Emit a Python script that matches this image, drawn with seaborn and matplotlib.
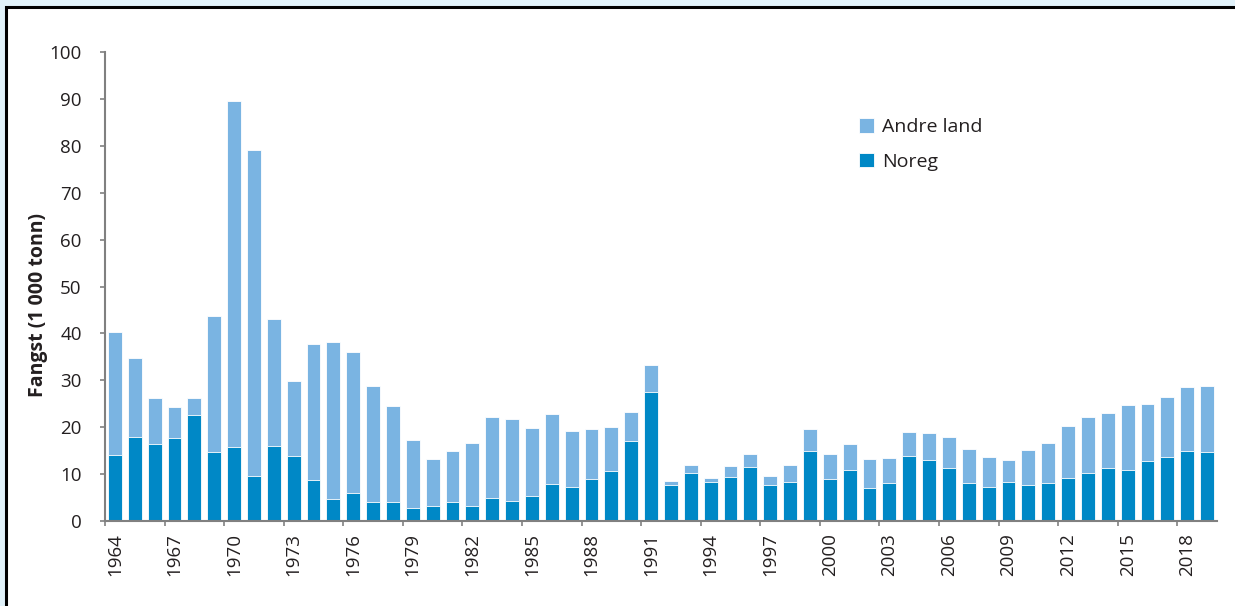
import pandas as pd
import seaborn as sns
from matplotlib import pyplot as plt
from matplotlib.patches import Rectangle

years = list(range(1964, 2020))
# total catch (Noreg + Andre land), 1 000 tonn
total = [40.4, 34.7, 26.3, 24.3, 26.2, 43.7, 89.5, 79.0, 43.1, 29.9,
         37.8, 38.2, 36.1, 28.8, 24.6, 17.3, 13.2, 15.0, 16.7, 22.1,
         21.8, 19.9, 22.8, 19.1, 19.6, 20.1, 23.2, 33.3, 8.5, 11.9,
         9.2, 11.7, 14.3, 9.5, 11.9, 19.6, 14.3, 16.4, 13.3, 13.4,
         19.0, 18.8, 17.9, 15.4, 13.7, 13.0, 15.2, 16.6, 20.3, 22.2,
         23.0, 24.8, 25.0, 26.4, 28.5, 28.8]
noreg = [14.1, 18.0, 16.4, 17.6, 22.5, 14.7, 15.8, 9.5, 15.9, 13.9,
         8.7, 4.7, 6.0, 4.1, 4.1, 2.8, 3.1, 4.1, 3.2, 4.8,
         4.3, 5.3, 7.9, 7.3, 9.0, 10.6, 17.1, 27.6, 7.7, 10.2,
         8.4, 9.4, 11.6, 7.6, 8.4, 15.0, 9.0, 10.9, 7.1, 8.2,
         13.9, 13.1, 11.2, 8.1, 7.3, 8.3, 7.7, 8.1, 9.2, 10.3,
         11.2, 10.9, 12.8, 13.7, 14.9, 14.8]
tick_years = years[::3]

light = '#7ab4e2'
dark = '#0088c6'
grey = '#808080'
txt = '#231f20'

sns.set_theme(style='white')
plt.rcParams['font.family'] = ['Open Sans', 'DejaVu Sans']

df = pd.DataFrame({'year': [str(y) for y in years], 'total': total, 'noreg': noreg})

fig = plt.figure(figsize=(12.35, 6.06), dpi=100, facecolor='#e1f2fa')
fig.patches.append(Rectangle((6 / 1235, -0.1), 1.2, 1.1 - 7 / 606,
                             transform=fig.transFigure, facecolor='white',
                             edgecolor='black', lw=2.2, zorder=-1))
ax = fig.add_axes([105 / 1235, 1 - 521 / 606, (1217 - 105) / 1235, (521 - 52) / 606])
ax.set_facecolor('none')

sns.barplot(data=df, x='year', y='total', color=light, saturation=1, width=0.7,
            edgecolor='white', linewidth=0.6, label='Andre land', ax=ax)
sns.barplot(data=df, x='year', y='noreg', color=dark, saturation=1, width=0.7,
            edgecolor='white', linewidth=0.6, label='Noreg', ax=ax)

ax.set_xlim(-0.5, len(years) - 0.5)
ax.set_ylim(0, 100)
ax.set_yticks(range(0, 101, 10))
ax.set_xticks([years.index(y) for y in tick_years])
ax.set_xticklabels([str(y) for y in tick_years], rotation=90)
ax.set_xticks([years.index(y) - 0.5 for y in tick_years], minor=True)
ax.tick_params(axis='x', which='major', length=0, pad=9, labelsize=13.5, labelcolor=txt)
ax.tick_params(axis='x', which='minor', bottom=True, length=3.8, width=1.2, color=grey)
ax.tick_params(axis='y', left=True, length=3.8, width=1.2, color=grey, pad=13,
               labelsize=13.5, labelcolor=txt)

for s in ['top', 'right']:
    ax.spines[s].set_visible(False)
for s in ['left', 'bottom']:
    ax.spines[s].set_color(grey)
    ax.spines[s].set_linewidth(1.5)

ax.set_xlabel('')
ax.set_ylabel('Fangst (1 000 tonn)', fontsize=14, fontweight='bold', color=txt)
ax.yaxis.set_label_coords(-0.051, 0.46)

ax.legend(loc='upper left', bbox_to_anchor=(0.678, 0.859), frameon=False,
          fontsize=14, handlelength=0.78, handleheight=0.78, handletextpad=0.4,
          labelspacing=0.85, labelcolor=txt, borderaxespad=0, borderpad=0)

fig.savefig('out.png', dpi=100, facecolor=fig.get_facecolor())
